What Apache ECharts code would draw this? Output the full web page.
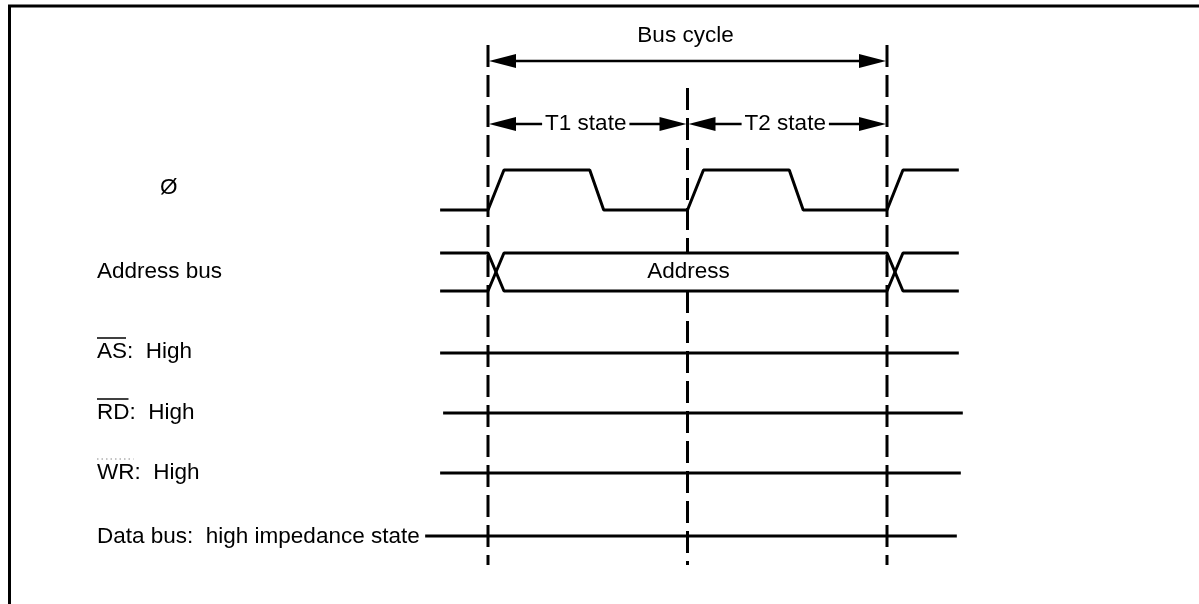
<!DOCTYPE html>
<html>
<head>
<meta charset="utf-8">
<script src="https://cdn.jsdelivr.net/npm/echarts@6/dist/echarts.min.js"></script>
<style>html,body{margin:0;padding:0;background:#fff}#c{width:1199px;height:604px}</style>
</head>
<body>
<div id="c"></div>
<script>
// ---------------- data ----------------
const signalNames = ['Ø', 'Address bus', 'AS', 'RD', 'WR', 'Data bus:  high impedance state'];
const signalSuffix = ['', '', ':  High', ':  High', ':  High', ''];
const overlined = [false, false, true, true, 'faint', false];
const cycleLabel = 'Bus cycle';
const stateLabels = ['T1 state', 'T2 state'];
const stateBoundaries = [0, 1, 2];            // time in states
const clockTimes  = [-0.24, 0, 0.08, 0.51, 0.58, 1, 1.08, 1.51, 1.58, 2, 2.08, 2.36];
const clockLevels = [0, 0, 1, 1, 0, 0, 1, 1, 0, 0, 1, 1];
const addressTimes  = [-0.24, 0, 0.08, 2, 2.08, 2.36];
const addressLevels = [1, 1, 0, 0, 1, 1];      // one rail; the other rail is its complement
const addressValueLabel = 'Address';
const staticStarts = [-0.24, -0.225, -0.24, -0.315];  // AS, RD, WR, Data bus
const staticEnds   = [2.36, 2.38, 2.37, 2.35];

// ---------------- layout ----------------
const W = 1199, H = 604;
const PX_PER_STATE = 199.5, ORIGIN_X = 488;
const FONT = '22.5px "Liberation Sans", Arial, sans-serif';
const clockRow = { low: 210, high: 170 };
const addrRow = { low: 291, high: 253 };
const staticRowY = [353, 413, 473, 536];
const labelY = [188, 272, 352, 413, 473, 537];
const labelX = [160, 97, 97, 97, 97, 97];
const dashTop = [45, 88, 45], dashBottom = 565;
const cycleArrowY = 61, cycleTextY = 36, stateArrowY = 124;

const measure = (() => { const c = document.createElement('canvas').getContext('2d'); c.font = FONT; return s => c.measureText(s).width; })();

const LINE = { color: '#000', width: 3 };
const series = [];
const lineSeries = (data, extra) => Object.assign({
  type: 'line', data, showSymbol: false, symbol: 'none', silent: true, animation: false,
  lineStyle: Object.assign({}, LINE), z: 3
}, extra || {});

// clock
series.push(lineSeries(clockTimes.map((t, i) => [t, clockLevels[i] ? clockRow.high : clockRow.low])));
// address rails
series.push(lineSeries(addressTimes.map((t, i) => [t, addressLevels[i] ? addrRow.high : addrRow.low])));
series.push(lineSeries(addressTimes.map((t, i) => [t, addressLevels[i] ? addrRow.low : addrRow.high])));
// static lines
staticRowY.forEach((y, k) => series.push(lineSeries([[staticStarts[k], y], [staticEnds[k], y]])));
// dashed boundaries (the middle one is interrupted inside the address box)
const DASH = { color: '#000', width: 3, type: [22, 8], cap: 'butt' };
stateBoundaries.forEach((t, k) => {
  const inside = t > addressTimes[2] && t < addressTimes[3];
  const data = inside
    ? [[t, dashTop[k]], [t, addrRow.high], '-', [t, addrRow.low], [t, dashBottom]]
    : [[t, dashTop[k]], [t, dashBottom]];
  series.push(lineSeries(data, { lineStyle: DASH, z: 4, connectNulls: false }));
});

// arrows (custom)
const arrows = [
  { t0: stateBoundaries[0], t1: stateBoundaries[2], y: cycleArrowY, text: cycleLabel, mode: 'above' },
  { t0: stateBoundaries[0], t1: stateBoundaries[1], y: stateArrowY, text: stateLabels[0], mode: 'inline' },
  { t0: stateBoundaries[1], t1: stateBoundaries[2], y: stateArrowY, text: stateLabels[1], mode: 'inline' }
];
const AL = 28, AH = 7;
series.push({
  type: 'custom', silent: true, animation: false, clip: false, z: 5,
  data: arrows.map(a => [a.t0, a.t1, a.y]),
  encode: { x: [0, 1], y: 2 },
  renderItem: (params, api) => {
    const a = arrows[params.dataIndex];
    const p0 = api.coord([api.value(0), api.value(2)]);
    const p1 = api.coord([api.value(1), api.value(2)]);
    const y = p0[1];
    const ch = [];
    ch.push({ type: 'polygon', shape: { points: [[p0[0] + 1, y], [p0[0] + AL, y - AH], [p0[0] + AL, y + AH]] }, style: { fill: '#000' } });
    ch.push({ type: 'polygon', shape: { points: [[p1[0] - 1, y], [p1[0] - AL, y - AH], [p1[0] - AL, y + AH]] }, style: { fill: '#000' } });
    const cx = (p0[0] + p1[0]) / 2;
    if (a.mode === 'inline') {
      const w = measure(a.text) / 2 + 3;
      ch.push({ type: 'line', shape: { x1: p0[0] + AL - 1, y1: y, x2: cx - 2 - w, y2: y }, style: { stroke: '#000', lineWidth: 2.5 } });
      ch.push({ type: 'line', shape: { x1: cx - 2 + w, y1: y, x2: p1[0] - AL + 1, y2: y }, style: { stroke: '#000', lineWidth: 2.5 } });
      ch.push({ type: 'text', style: { text: a.text, x: cx - 2, y: y, align: 'center', verticalAlign: 'middle', font: FONT, fill: '#000' } });
    } else {
      ch.push({ type: 'line', shape: { x1: p0[0] + AL - 1, y1: y, x2: p1[0] - AL + 1, y2: y }, style: { stroke: '#000', lineWidth: 2.5 } });
      ch.push({ type: 'text', style: { text: a.text, x: cx - 2, y: cycleTextY, align: 'center', verticalAlign: 'middle', font: FONT, fill: '#000' } });
    }
    return { type: 'group', children: ch };
  }
});

// Address value label
series.push({
  type: 'custom', silent: true, animation: false, clip: false, z: 5,
  data: [[(stateBoundaries[0] + stateBoundaries[2]) / 2, (addrRow.low + addrRow.high) / 2]],
  renderItem: (params, api) => {
    const p = api.coord([api.value(0), api.value(1)]);
    return { type: 'text', style: { text: addressValueLabel, x: p[0] + 1, y: p[1], align: 'center', verticalAlign: 'middle', font: FONT, fill: '#000' } };
  }
});

// signal names + overlines, frame
const graphic = [];
graphic.push({ type: 'line', shape: { x1: 8, y1: 6, x2: W, y2: 6 }, style: { stroke: '#000', lineWidth: 3 } });
graphic.push({ type: 'line', shape: { x1: 9.5, y1: 5, x2: 9.5, y2: H }, style: { stroke: '#000', lineWidth: 3 } });
signalNames.forEach((name, i) => {
  graphic.push({ type: 'text', x: labelX[i], y: labelY[i], style: { text: name + signalSuffix[i], font: FONT, fill: '#000', align: 'left', verticalAlign: 'middle' } });
  if (overlined[i]) {
    const w = measure(name);
    const faint = overlined[i] === 'faint';
    graphic.push({ type: 'line', shape: { x1: labelX[i], y1: labelY[i] - 14, x2: labelX[i] + w - 1, y2: labelY[i] - 14 },
      style: { stroke: faint ? '#888' : '#000', lineWidth: faint ? 1 : 1.5, lineDash: faint ? [1.5, 3] : null } });
  }
});

const chart = echarts.init(document.getElementById('c'), null, { renderer: 'canvas' });
chart.setOption({
  backgroundColor: '#fff',
  animation: false,
  grid: { left: 0, right: 0, top: 0, bottom: 0 },
  xAxis: { type: 'value', min: -ORIGIN_X / PX_PER_STATE, max: (W - ORIGIN_X) / PX_PER_STATE, show: false },
  yAxis: { type: 'value', min: 0, max: H, inverse: true, show: false },
  series,
  graphic
});
</script>
</body>
</html>
